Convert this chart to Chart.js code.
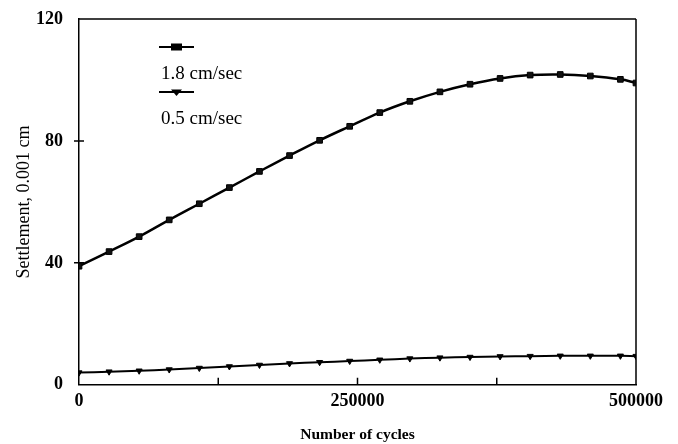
<!DOCTYPE html>
<html>
<head>
<meta charset="utf-8">
<script src="https://cdn.jsdelivr.net/npm/chart.js@4.4.0/dist/chart.umd.min.js"></script>
<style>
  html, body { margin: 0; padding: 0; background: #fff; }
  #wrap { width: 678px; height: 444px; }
</style>
</head>
<body>
<div id="wrap"><canvas id="myChart"></canvas></div>
<script>
  // cycles (markers about every 27000 cycles)
  const cycles = [0, 27000, 54000, 81000, 108000, 135000, 162000, 189000, 216000, 243000,
    270000, 297000, 324000, 351000, 378000, 405000, 432000, 459000, 486000, 500000];
  const fast = [38.9, 43.7, 48.6, 54.1, 59.4, 64.7, 70.0, 75.2, 80.2, 84.8,
    89.3, 93.0, 96.1, 98.6, 100.5, 101.6, 101.8, 101.3, 100.2, 99.0];
  const slow = [4.0, 4.3, 4.6, 5.0, 5.5, 6.0, 6.5, 7.0, 7.4, 7.8,
    8.2, 8.6, 8.9, 9.1, 9.3, 9.4, 9.5, 9.5, 9.5, 9.4];
  const seriesNames = ['1.8 cm/sec', '0.5 cm/sec'];
  const yTicks = [0, 40, 80, 120];
  const xTicks = [0, 250000, 500000];

  const serif = 'Liberation Serif';

  function pts(ys) {
    return cycles.map((c, i) => ({ x: c, y: ys[i] }));
  }

  // frame, inward ticks and the stacked legend
  const extras = {
    id: 'extras',
    afterDraw(chart) {
      const c = chart.ctx;
      const a = chart.chartArea;
      const xs = chart.scales.x, ys = chart.scales.y;
      c.save();
      c.strokeStyle = '#000';
      c.lineWidth = 1.5;
      c.beginPath();
      c.moveTo(a.left, a.top); c.lineTo(a.right, a.top);
      c.moveTo(a.right, a.top); c.lineTo(a.right, a.bottom);
      [125000, 250000, 375000].forEach(v => {
        const px = xs.getPixelForValue(v);
        c.moveTo(px, a.bottom); c.lineTo(px, a.bottom - 7);
      });
      [40, 80].forEach(v => {
        const py = ys.getPixelForValue(v);
        c.moveTo(a.left - 5, py); c.lineTo(a.left + 5, py);
      });
      c.stroke();

      // legend: symbol on one line, name below
      const lx = 159;
      const rows = [47, 92];
      chart.data.datasets.forEach((ds, i) => {
        const y = rows[i];
        c.strokeStyle = '#000';
        c.lineWidth = 2;
        c.beginPath();
        c.moveTo(lx, y); c.lineTo(lx + 35, y);
        c.stroke();
        c.fillStyle = '#000';
        if (i === 0) {
          c.fillRect(lx + 12, y - 3.5, 11, 7);
        } else {
          c.beginPath();
          c.moveTo(lx + 12, y - 2.5); c.lineTo(lx + 23, y - 2.5); c.lineTo(lx + 17.5, y + 4);
          c.closePath(); c.fill();
        }
        c.font = '19px "' + serif + '"';
        c.textBaseline = 'middle';
        c.textAlign = 'left';
        c.fillText(ds.label, lx + 2, y + 27);
      });
      c.restore();
    }
  };

  const ctx = document.getElementById('myChart');

  new Chart(ctx, {
    type: 'line',
    data: {
      datasets: [{
        label: seriesNames[0],
        data: pts(fast),
        borderColor: '#000',
        backgroundColor: '#000',
        borderWidth: 2.5,
        tension: 0.4,
        pointStyle: 'rect',
        pointRadius: 4,
        pointBorderColor: '#000',
        pointBackgroundColor: '#111',
        pointBorderWidth: 1
      }, {
        label: seriesNames[1],
        data: pts(slow),
        borderColor: '#000',
        backgroundColor: '#000',
        borderWidth: 2,
        tension: 0.4,
        pointStyle: 'triangle',
        rotation: 180,
        pointRadius: 3.5,
        pointBorderColor: '#000',
        pointBackgroundColor: '#000',
        pointBorderWidth: 1
      }]
    },
    options: {
      responsive: true,
      maintainAspectRatio: false,
      animation: false,
      layout: { padding: { top: 19, right: 42, left: 0, bottom: 0 } },
      plugins: {
        legend: { display: false },
        tooltip: { enabled: false }
      },
      scales: {
        x: {
          type: 'linear',
          min: 0,
          max: 500000,
          afterBuildTicks(scale) { scale.ticks = xTicks.map(v => ({ value: v })); },
          grid: { display: false, drawTicks: false },
          border: { display: true, color: '#000', width: 1.5 },
          ticks: {
            color: '#000',
            padding: 6,
            maxRotation: 0,
            font: { family: serif, size: 18, weight: 'bold' },
            callback: v => String(v)
          },
          title: {
            display: true,
            text: 'Number of cycles',
            color: '#000',
            padding: { top: 7, bottom: 0 },
            font: { family: serif, size: 15.5, weight: 'bold' }
          }
        },
        y: {
          min: 0,
          max: 120,
          afterBuildTicks(scale) { scale.ticks = yTicks.map(v => ({ value: v })); },
          afterFit(scale) {
            scale.width = 79;
            scale.paddingTop = 0;
            scale.paddingBottom = 0;
          },
          grid: { display: false, drawTicks: false },
          border: { display: true, color: '#000', width: 1.5 },
          ticks: {
            color: '#000',
            padding: 16,
            font: { family: serif, size: 18, weight: 'bold' }
          },
          title: {
            display: true,
            text: 'Settlement, 0.001 cm',
            color: '#000',
            padding: { top: 13, bottom: 4 },
            font: { family: serif, size: 18 }
          }
        }
      }
    },
    plugins: [extras]
  });
</script>
</body>
</html>
